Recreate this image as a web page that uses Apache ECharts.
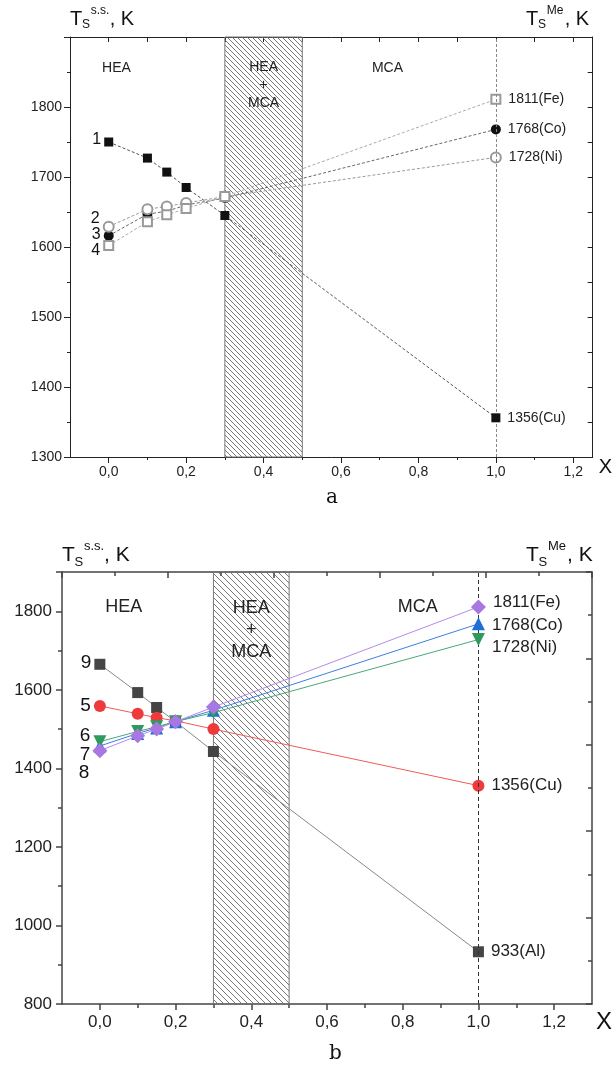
<!DOCTYPE html>
<html>
<head>
<meta charset="utf-8">
<script src="https://cdn.jsdelivr.net/npm/echarts@6/dist/echarts.min.js"></script>
<style>
  html, body { margin: 0; padding: 0; background: #fff; }
  #chart { width: 613px; height: 1072px; }
</style>
</head>
<body>
<div id="chart"></div>
<script>
// composition X of the alloys (same for both panels)
const xValues = [0, 0.1, 0.15, 0.2, 0.3, 1.0];

// panel a: solidus temperatures, K
const tA_Cu = [1750, 1727, 1707, 1685, 1645, 1356];
const tA_Ni = [1629, 1654, 1658, 1663, 1672, 1728];
const tA_Co = [1616, 1647, 1651, 1660, 1670, 1768];
const tA_Fe = [1602, 1636, 1646, 1655, 1672, 1811];
const numLabelsA = ['1', '2', '3', '4'];
const endLabelsA = ['1356(Cu)', '1728(Ni)', '1768(Co)', '1811(Fe)'];

// panel b: solidus temperatures, K
const tB_Al = [1665, 1593, 1555, 1519, 1443, 933];
const tB_Cu = [1559, 1539, 1529, 1521, 1500, 1356];
const tB_Co = [1457, 1489, 1503, 1519, 1548, 1768];
const tB_Ni = [1468, 1494, 1506, 1519, 1542, 1728];
const tB_Fe = [1445, 1483, 1500, 1519, 1556, 1811];
const numLabelsB = ['9', '5', '7', '6', '8'];
const endLabelsB = ['933(Al)', '1356(Cu)', '1768(Co)', '1728(Ni)', '1811(Fe)'];

// tick labels
const xMajorTicks = [0, 0.2, 0.4, 0.6, 0.8, 1.0, 1.2];
const xMinorTicks = [0.1, 0.3, 0.5, 0.7, 0.9, 1.1];
const xAllTicks = [0, 0.1, 0.2, 0.3, 0.4, 0.5, 0.6, 0.7, 0.8, 0.9, 1.0, 1.1, 1.2];

const FONT = '"Liberation Sans", Arial, sans-serif';

const myChart = echarts.init(document.getElementById('chart'));

// hatch pattern "\\\\" for the HEA+MCA band
function makeHatch(p, color) {
    const c = document.createElement('canvas');
    c.width = p; c.height = p;
    const ctx = c.getContext('2d');
    ctx.strokeStyle = color;
    ctx.lineWidth = 0.8;
    ctx.beginPath();
    ctx.moveTo(0, 0); ctx.lineTo(p, p);
    ctx.moveTo(-1, p - 1); ctx.lineTo(1, p + 1);
    ctx.moveTo(p - 1, -1); ctx.lineTo(p + 1, 1);
    ctx.stroke();
    return c;
}

const fmtX = v => v.toFixed(1).replace('.', ',');
const fmtY = v => String(v);

// builds point list, number label on first point, element label on last one
function buildData(values, num, numOffset, endLabel, endOffset, fs, numFs) {
    return values.map((v, i) => {
        const item = { value: [xValues[i], v] };
        if (i === 0) {
            item.label = { show: true, position: 'left', distance: 3, offset: numOffset,
                formatter: num, fontSize: numFs, color: '#111', fontFamily: FONT };
        }
        if (i === values.length - 1) {
            item.label = { show: true, position: 'right', distance: 7, offset: endOffset,
                formatter: endLabel, fontSize: fs, color: '#222', fontFamily: FONT };
        }
        return item;
    });
}

function bandArea(period) {
    return {
        silent: true,
        itemStyle: {
            color: { image: makeHatch(period, '#555'), repeat: 'repeat' },
            borderColor: '#777', borderWidth: 1
        },
        label: { show: false },
        data: [[{ xAxis: 0.3 }, { xAxis: 0.5 }]]
    };
}

function regionText(list, fs, lh) {
    return {
        silent: true,
        symbol: 'circle', symbolSize: 0,
        label: { show: true, position: 'inside', formatter: '{b}', color: '#222',
            fontSize: fs, lineHeight: lh, fontFamily: FONT },
        data: list
    };
}

// T_S^x, K  titles
function axisTitle(x, y, sup, fs, supW) {
    const small = Math.round(fs * 0.62);
    return [
        { type: 'text', left: x, top: y, style: { text: 'T', fontSize: fs, fontFamily: FONT, fill: '#111' } },
        { type: 'text', left: x + fs * 0.6, top: y + fs * 0.5, style: { text: 'S', fontSize: small, fontFamily: FONT, fill: '#111' } },
        { type: 'text', left: x + fs * 0.6 + small * 0.72, top: y - fs * 0.22, style: { text: sup, fontSize: small, fontFamily: FONT, fill: '#111' } },
        { type: 'text', left: x + fs * 0.6 + small * 0.72 + supW, top: y, style: { text: ', K', fontSize: fs, fontFamily: FONT, fill: '#111' } }
    ];
}

const cA = '#222', cB = '#444';
const lineA = { show: true, onZero: false, lineStyle: { color: cA, width: 1 } };
const lineB = { show: true, onZero: false, lineStyle: { color: cB, width: 1.5 } };
const tickA = (len, inside) => ({ show: true, inside: !!inside, length: len, lineStyle: { color: cA, width: 1 } });
const tickB = (len, inside) => ({ show: true, inside: !!inside, length: len, lineStyle: { color: cB, width: 1.5 } });

let option = {
    animation: false,
    grid: [
        { left: 70, top: 37, width: 523, height: 420 },
        { left: 62, top: 572, width: 533, height: 432 }
    ],
    xAxis: [
        // panel a bottom, major
        { gridIndex: 0, type: 'value', min: -0.1, max: 1.25, position: 'bottom',
          name: 'X', nameLocation: 'end', nameGap: 6,
          nameTextStyle: { fontSize: 20, color: '#111', fontFamily: FONT, verticalAlign: 'top' },
          axisLine: lineA, splitLine: { show: false },
          axisTick: Object.assign(tickA(6), { customValues: xMajorTicks }),
          axisLabel: { customValues: xMajorTicks, formatter: fmtX, fontSize: 14, color: '#222', fontFamily: FONT, margin: 8 } },
        // panel a bottom, minor
        { gridIndex: 0, type: 'value', min: -0.1, max: 1.25, position: 'bottom',
          axisLine: { show: false, onZero: false }, splitLine: { show: false }, axisLabel: { show: false },
          axisTick: Object.assign(tickA(3), { customValues: xMinorTicks }) },
        // panel a top
        { gridIndex: 0, type: 'value', min: -0.1, max: 1.25, position: 'top',
          axisLine: lineA, splitLine: { show: false }, axisLabel: { show: false },
          axisTick: Object.assign(tickA(5, true), { customValues: xAllTicks }) },
        // panel b bottom, major
        { gridIndex: 1, type: 'value', min: -0.1, max: 1.3, position: 'bottom',
          name: 'X', nameLocation: 'end', nameGap: 4,
          nameTextStyle: { fontSize: 24, color: '#111', fontFamily: FONT, verticalAlign: 'top', padding: [6, 0, 0, 0] },
          axisLine: lineB, splitLine: { show: false },
          axisTick: Object.assign(tickB(6), { customValues: xMajorTicks }),
          axisLabel: { customValues: xMajorTicks, formatter: fmtX, fontSize: 17, color: '#222', fontFamily: FONT, margin: 10 } },
        // panel b bottom, minor
        { gridIndex: 1, type: 'value', min: -0.1, max: 1.3, position: 'bottom',
          axisLine: { show: false, onZero: false }, splitLine: { show: false }, axisLabel: { show: false },
          axisTick: Object.assign(tickB(4), { customValues: xMinorTicks }) },
        // panel b top (own scale)
        { gridIndex: 1, type: 'value', min: 0, max: 5, interval: 1, position: 'top',
          axisLine: lineB, splitLine: { show: false }, axisLabel: { show: false },
          axisTick: tickB(6, true),
          minorTick: { show: true, splitNumber: 2, length: 4, lineStyle: { color: cB, width: 1.5 } } }
    ],
    yAxis: [
        // panel a left
        { gridIndex: 0, type: 'value', min: 1300, max: 1900, interval: 100, position: 'left',
          axisLine: lineA, splitLine: { show: false },
          axisTick: tickA(6),
          minorTick: { show: true, splitNumber: 2, length: 3, lineStyle: { color: cA, width: 1 } },
          axisLabel: { showMaxLabel: false, formatter: fmtY, fontSize: 14, color: '#222', fontFamily: FONT, margin: 8 } },
        // panel a right
        { gridIndex: 0, type: 'value', min: 1300, max: 1900, interval: 50, position: 'right',
          axisLine: lineA, splitLine: { show: false },
          axisTick: tickA(5, true),
          axisLabel: { show: false } },
        // panel b left
        { gridIndex: 1, type: 'value', min: 800, max: 1900, interval: 200, position: 'left',
          axisLine: lineB, splitLine: { show: false },
          axisTick: tickB(6),
          minorTick: { show: true, splitNumber: 2, length: 4, lineStyle: { color: cB, width: 1.5 } },
          axisLabel: { showMaxLabel: false, formatter: fmtY, fontSize: 17, color: '#222', fontFamily: FONT, margin: 10 } },
        // panel b right (own scale)
        { gridIndex: 1, type: 'value', min: 0, max: 5, interval: 1, position: 'right',
          axisLine: lineB, splitLine: { show: false },
          axisTick: tickB(6, true),
          minorTick: { show: true, splitNumber: 2, length: 4, lineStyle: { color: cB, width: 1.5 } },
          axisLabel: { show: false } }
    ],
    graphic: [].concat(
        axisTitle(70, 9, 's.s.', 20, 19),
        axisTitle(526, 9, 'Me', 20, 18),
        axisTitle(62, 545, 's.s.', 21, 20),
        axisTitle(526, 545, 'Me', 21, 19),
        [
            { type: 'text', left: 326, top: 488, style: { text: 'a', fontSize: 20, fontFamily: '"DejaVu Serif", "Liberation Serif", serif', fill: '#111' } },
            { type: 'text', left: 329, top: 1044, style: { text: 'b', fontSize: 20, fontFamily: '"DejaVu Serif", "Liberation Serif", serif', fill: '#111' } }
        ]
    ),
    series: [
        // ---- panel a ----
        { name: '1', type: 'line', xAxisIndex: 0, yAxisIndex: 0, z: 5,
          data: buildData(tA_Cu, numLabelsA[0], [0, -2], endLabelsA[0], [0, 0], 14, 16),
          symbol: 'rect', symbolSize: 9, itemStyle: { color: '#111' },
          lineStyle: { color: '#555', width: 1, type: [3, 2] },
          markArea: bandArea(5),
          markLine: { silent: true, symbol: 'none', label: { show: false },
              lineStyle: { color: '#888', width: 1, type: [3, 2] }, data: [{ xAxis: 1 }] },
          markPoint: regionText([
              { name: 'HEA', coord: [0.02, 1856] },
              { name: 'HEA\n+\nMCA', coord: [0.4, 1831] },
              { name: 'MCA', coord: [0.72, 1856] }
          ], 14, 18) },
        { name: '2', type: 'line', xAxisIndex: 0, yAxisIndex: 0, z: 4,
          data: buildData(tA_Ni, numLabelsA[1], [0, -8], endLabelsA[1], [0, 0], 14, 16),
          symbol: 'emptyCircle', symbolSize: 10, itemStyle: { color: '#999', borderWidth: 1 },
          lineStyle: { color: '#999', width: 1, type: [3, 2] } },
        { name: '3', type: 'line', xAxisIndex: 0, yAxisIndex: 0, z: 3,
          data: buildData(tA_Co, numLabelsA[2], [0, -1], endLabelsA[2], [0, 0], 14, 16),
          symbol: 'circle', symbolSize: 10, itemStyle: { color: '#111' },
          lineStyle: { color: '#666', width: 1, type: [3, 2] } },
        { name: '4', type: 'line', xAxisIndex: 0, yAxisIndex: 0, z: 4,
          data: buildData(tA_Fe, numLabelsA[3], [0, 5], endLabelsA[3], [0, 0], 14, 16),
          symbol: 'emptyRect', symbolSize: 9, itemStyle: { color: '#999', borderWidth: 1 },
          lineStyle: { color: '#aaa', width: 1, type: [3, 2] } },

        // ---- panel b ----
        { name: '9', type: 'line', xAxisIndex: 3, yAxisIndex: 2, z: 3,
          data: buildData(tB_Al, numLabelsB[0], [0, -2], endLabelsB[0], [0, 0], 17, 19),
          symbol: 'rect', symbolSize: 11, itemStyle: { color: '#454545' },
          lineStyle: { color: '#888', width: 1 },
          markArea: bandArea(6),
          markLine: { silent: true, symbol: 'none', label: { show: false },
              lineStyle: { color: '#333', width: 1, type: [4, 3] }, data: [{ xAxis: 1 }] },
          markPoint: regionText([
              { name: 'HEA', coord: [0.063, 1811] },
              { name: 'HEA\n+\nMCA', coord: [0.4, 1752] },
              { name: 'MCA', coord: [0.84, 1811] }
          ], 18, 22) },
        { name: '5', type: 'line', xAxisIndex: 3, yAxisIndex: 2, z: 4,
          data: buildData(tB_Cu, numLabelsB[1], [0, 0], endLabelsB[1], [0, 0], 17, 19),
          symbol: 'circle', symbolSize: 12, itemStyle: { color: '#ee3a3a' },
          lineStyle: { color: '#f05a5a', width: 1 } },
        { name: '7', type: 'line', xAxisIndex: 3, yAxisIndex: 2, z: 5,
          data: buildData(tB_Co, numLabelsB[2], [0, 9], endLabelsB[2], [0, 1], 17, 19),
          symbol: 'triangle', symbolSize: 13, itemStyle: { color: '#1f6fd6' },
          lineStyle: { color: '#3a7fe0', width: 1 } },
        { name: '6', type: 'line', xAxisIndex: 3, yAxisIndex: 2, z: 6,
          data: buildData(tB_Ni, numLabelsB[3], [0, -6], endLabelsB[3], [0, 8], 17, 19),
          symbol: 'triangle', symbolRotate: 180, symbolSize: 13, itemStyle: { color: '#2f9a5e' },
          lineStyle: { color: '#48a878', width: 1 } },
        { name: '8', type: 'line', xAxisIndex: 3, yAxisIndex: 2, z: 7,
          data: buildData(tB_Fe, numLabelsB[4], [0, 22], endLabelsB[4], [0, -5], 17, 19),
          symbol: 'diamond', symbolSize: 15, itemStyle: { color: '#a877e2' },
          lineStyle: { color: '#b48ae8', width: 1 } }
    ]
};

myChart.setOption(option);
</script>
</body>
</html>
